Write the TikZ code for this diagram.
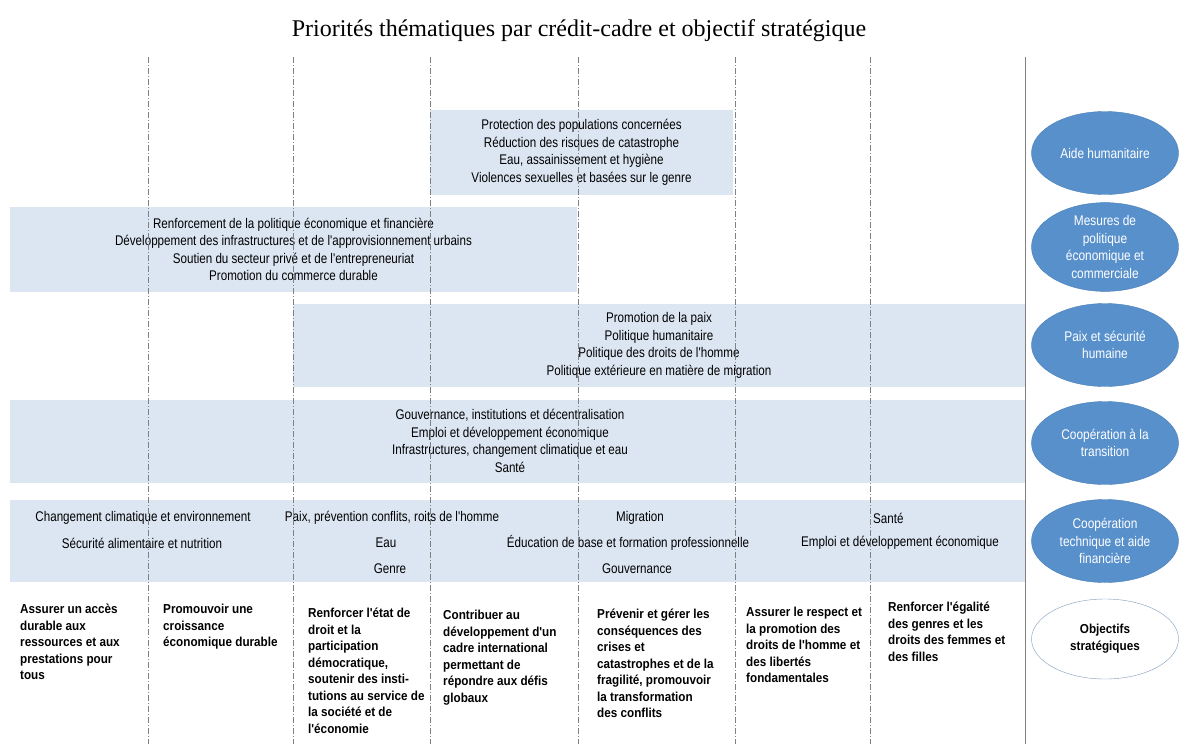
\documentclass[tikz,border=0pt]{standalone}
\usepackage{fontspec}
\usetikzlibrary{shapes.geometric}
\setmainfont{Liberation Serif}
\newfontfamily\narrowfont[FakeStretch=0.83]{Liberation Sans}
\newfontfamily\ellfont[FakeStretch=0.85]{Liberation Sans}
\newfontfamily\boldnarrow[FakeStretch=0.9]{Liberation Sans}
\definecolor{bandblue}{HTML}{DCE6F2}
\definecolor{ellblue}{HTML}{5890CC}
\definecolor{ellline}{HTML}{4A7EB6}
\definecolor{objline}{HTML}{7F9CBC}
\definecolor{sepgray}{HTML}{808080}
\tikzset{
  band/.style={rectangle, fill=bandblue, inner sep=0pt, align=center,
    font=\narrowfont\fontsize{14}{17.5}\selectfont},
  btext/.style={inner sep=0pt, font=\narrowfont\fontsize{14}{15}\selectfont},
  ell/.style={ellipse, draw=ellline, fill=ellblue, minimum width=147pt, minimum height=83pt,
    inner sep=0pt, align=center, text=white,
    font=\ellfont\fontsize{14}{17.5}\selectfont},
  objell/.style={ellipse, draw=objline, fill=white, minimum width=147pt, minimum height=80pt,
    inner sep=0pt, align=center, text=black,
    font=\boldnarrow\bfseries\fontsize{13}{17}\selectfont},
  obj/.style={anchor=north west, inner sep=0pt, align=left,
    font=\boldnarrow\bfseries\fontsize{13}{16.5}\selectfont},
  sep/.style={draw=sepgray, line width=0.6pt, dash pattern=on 6pt off 2pt on 1pt off 2pt},
}
\begin{document}
\begin{tikzpicture}[x=1pt,y=-1pt]
\useasboundingbox (0,0) rectangle (1188,744);
\node[font=\fontsize{24}{28}\selectfont] (title) at (579,31) {Priorités thématiques par crédit-cadre et objectif stratégique};

% bands
\node[band, minimum width=303pt, minimum height=85pt] (b1) at (581.5,152.5)
  {Protection des populations concernées\\Réduction des risques de catastrophe\\Eau, assainissement et hygiène\\Violences sexuelles et basées sur le genre};
\node[band, minimum width=567pt, minimum height=85pt] (b2) at (293.5,249.5)
  {Renforcement de la politique économique et financière\\Développement des infrastructures et de l'approvisionnement urbains\\Soutien du secteur privé et de l'entrepreneuriat\\Promotion du commerce durable};
\node[band, minimum width=732pt, minimum height=83pt] (b3) at (659,345.5)
  {Promotion de la paix\\Politique humanitaire\\Politique des droits de l'homme\\Politique extérieure en matière de migration};
\node[band, minimum width=1015pt, minimum height=83pt] (b4) at (517.5,441.5)
  {};
\node[band, align=center] (b4t) at (510,441) {Gouvernance, institutions et décentralisation\\Emploi et développement économique\\Infrastructures, changement climatique et eau\\Santé};
\node[band, minimum width=1015pt, minimum height=82pt] (b5) at (517.5,540.5) {};

% band 5 texts
\node[btext] (t1) at (143,518) {Changement climatique et environnement};
\node[btext] (t2) at (142,543) {Sécurité alimentaire et nutrition};
\node[btext] (t3) at (392,518) {Paix, prévention conflits, roits de l'homme};
\node[btext] (t4) at (386,543) {Eau};
\node[btext] (t5) at (390,569) {Genre};
\node[btext] (t6) at (640,518) {Migration};
\node[btext] (t7) at (628,543) {Éducation de base et formation professionnelle};
\node[btext] (t8) at (637,569) {Gouvernance};
\node[btext, anchor=west] (t9) at (873,518) {Santé};
\node[btext] (t10) at (900,543) {Emploi et développement économique};

% separators
\foreach \x in {148,293,430,578,735,870}
  \draw[sep] (\x,57) -- (\x,744);
\draw[draw=sepgray, line width=0.8pt] (1025,57) -- (1025,744);

% ellipses
\node[ell] (e1) at (1105,153) {Aide humanitaire};
\node[ell] (e2) at (1105,247) {Mesures de\\politique\\économique et\\commerciale};
\node[ell] (e3) at (1105,345) {Paix et sécurité\\humaine};
\node[ell] (e4) at (1105,443) {Coopération à la\\transition};
\node[ell] (e5) at (1105,541) {Coopération\\technique et aide\\financière};
\node[objell] (e6) at (1105,639) {Objectifs\\stratégiques};

% objectives
\node[obj] (o1) at (20,604) {Assurer un accès\\durable aux\\ressources et aux\\prestations pour\\tous};
\node[obj] (o2) at (163,604) {Promouvoir une\\croissance\\économique durable};
\node[obj] (o3) at (308,608) {Renforcer l'état de\\droit et la\\participation\\démocratique,\\soutenir des insti-\\tutions au service de\\la société et de\\l'économie};
\node[obj] (o4) at (443,610) {Contribuer au\\développement d'un\\cadre international\\permettant de\\répondre aux défis\\globaux};
\node[obj] (o5) at (597,609) {Prévenir et gérer les\\conséquences des\\crises et\\catastrophes et de la\\fragilité, promouvoir\\la transformation\\des conflits};
\node[obj] (o6) at (746,607) {Assurer le respect et\\la promotion des\\droits de l'homme et\\des libertés\\fondamentales};
\node[obj] (o7) at (888,602) {Renforcer l'égalité\\des genres et les\\droits des femmes et\\des filles};
\end{tikzpicture}
\end{document}
